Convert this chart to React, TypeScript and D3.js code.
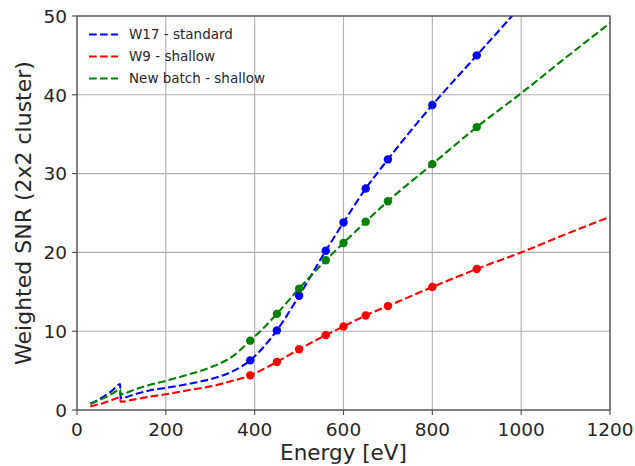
import React from "react";
import * as d3 from "d3";

// measured points
const energies = [390, 450, 500, 560, 600, 650, 700, 800, 900];
const w17Snr = [6.3, 10.1, 14.5, 20.2, 23.8, 28.1, 31.8, 38.7, 45.0];
const w9Snr = [4.4, 6.1, 7.7, 9.5, 10.6, 12.0, 13.2, 15.6, 17.9];
const newBatchSnr = [8.8, 12.2, 15.4, 19.0, 21.2, 23.9, 26.5, 31.2, 35.9];

// dashed model curves
const fitEnergy = [30, 60, 80, 97, 98, 130, 165, 200, 250, 300, 350, 390, 420, 450, 500, 560, 600, 650, 700, 800, 900, 1000, 1100, 1200];
const w17Fit = [0.8, 1.7, 2.5, 3.3, 1.5, 2.0, 2.5, 2.8, 3.3, 3.9, 4.9, 6.3, 8.0, 10.1, 14.5, 20.2, 23.8, 28.1, 31.8, 38.7, 45.0, 51.3, 57.6, 64.0];
const w9Fit = [0.45, 0.9, 1.3, 1.6, 1.05, 1.35, 1.7, 2.0, 2.5, 3.0, 3.7, 4.4, 5.2, 6.1, 7.7, 9.5, 10.6, 12.0, 13.2, 15.6, 17.9, 20.0, 22.3, 24.5];
const newBatchFit = [0.8, 1.5, 2.1, 2.6, 2.0, 2.6, 3.2, 3.7, 4.5, 5.4, 6.8, 8.8, 10.4, 12.2, 15.4, 19.0, 21.2, 23.9, 26.5, 31.2, 35.9, 40.2, 44.7, 49.1];

const xTicks = [0, 200, 400, 600, 800, 1000, 1200];
const yTicks = [0, 10, 20, 30, 40, 50];

const series = [
  { name: "W17 - standard", color: "#0000ff", fit: w17Fit, pts: w17Snr },
  { name: "W9 - shallow", color: "#ff0000", fit: w9Fit, pts: w9Snr },
  { name: "New batch - shallow", color: "#008000", fit: newBatchFit, pts: newBatchSnr },
];

const W = 635;
const H = 466;
const margin = { top: 16, right: 25, bottom: 56, left: 77 };

export default function App() {
  const x = d3.scaleLinear().domain([0, 1200]).range([margin.left, W - margin.right]);
  const y = d3.scaleLinear().domain([0, 50]).range([H - margin.bottom, margin.top]);
  const line = d3
    .line<[number, number]>()
    .x((d) => x(d[0]))
    .y((d) => y(d[1]))
    .curve(d3.curveMonotoneX);

  const font = "'DejaVu Sans', sans-serif";
  const textColor = "#262626";

  return (
    <svg
      width={W}
      height={H}
      style={{ position: "absolute", left: 0, top: 0, background: "#fff" }}
      fontFamily={font}
    >
      <defs>
        <clipPath id="plot">
          <rect x={x(0)} y={y(50)} width={x(1200) - x(0)} height={y(0) - y(50)} />
        </clipPath>
      </defs>

      {/* grid */}
      {xTicks.map((t) => (
        <line key={"gx" + t} x1={x(t)} x2={x(t)} y1={y(0)} y2={y(50)} stroke="#b0b0b0" strokeWidth={1.1} />
      ))}
      {yTicks.map((t) => (
        <line key={"gy" + t} x1={x(0)} x2={x(1200)} y1={y(t)} y2={y(t)} stroke="#b0b0b0" strokeWidth={1.1} />
      ))}

      {/* curves and points */}
      <g clipPath="url(#plot)">
        {series.map((s) => (
          <path
            key={s.name}
            d={line(fitEnergy.map((e, i) => [e, s.fit[i]] as [number, number])) || ""}
            fill="none"
            stroke={s.color}
            strokeWidth={2.1}
            strokeDasharray="7.7,3.3"
          />
        ))}
      </g>
      {series.map((s) =>
        energies.map((e, i) => (
          <circle key={s.name + e} cx={x(e)} cy={y(s.pts[i])} r={4.2} fill={s.color} />
        ))
      )}

      {/* frame */}
      <rect
        x={x(0)}
        y={y(50)}
        width={x(1200) - x(0)}
        height={y(0) - y(50)}
        fill="none"
        stroke="#4a4a4a"
        strokeWidth={1.2}
      />

      {/* x ticks */}
      {xTicks.map((t) => (
        <g key={"xt" + t}>
          <line x1={x(t)} x2={x(t)} y1={y(0)} y2={y(0) + 5} stroke="#4a4a4a" strokeWidth={1.1} />
          <text x={x(t)} y={y(0) + 26} textAnchor="middle" fontSize={18.5} fill={textColor}>
            {t}
          </text>
        </g>
      ))}
      {/* y ticks */}
      {yTicks.map((t) => (
        <g key={"yt" + t}>
          <line x1={x(0) - 5} x2={x(0)} y1={y(t)} y2={y(t)} stroke="#4a4a4a" strokeWidth={1.1} />
          <text x={x(0) - 10} y={y(t) + 6.7} textAnchor="end" fontSize={18.5} fill={textColor}>
            {t}
          </text>
        </g>
      ))}

      {/* axis labels */}
      <text x={(x(0) + x(1200)) / 2} y={459.5} textAnchor="middle" fontSize={21.5} fill={textColor}>
        Energy [eV]
      </text>
      <text
        transform={`translate(31,${(y(0) + y(50)) / 2}) rotate(-90)`}
        textAnchor="middle"
        fontSize={22}
        fill={textColor}
      >
        Weighted SNR (2x2 cluster)
      </text>

      {/* legend */}
      {series.map((s, i) => (
        <g key={"lg" + s.name} transform={`translate(0,${34.5 + i * 22})`}>
          <line x1={89} x2={118} y1={0} y2={0} stroke={s.color} strokeWidth={2.1} strokeDasharray="7.7,3.3" />
          <text x={129} y={4.8} fontSize={13.5} fill={textColor}>
            {s.name}
          </text>
        </g>
      ))}
    </svg>
  );
}
